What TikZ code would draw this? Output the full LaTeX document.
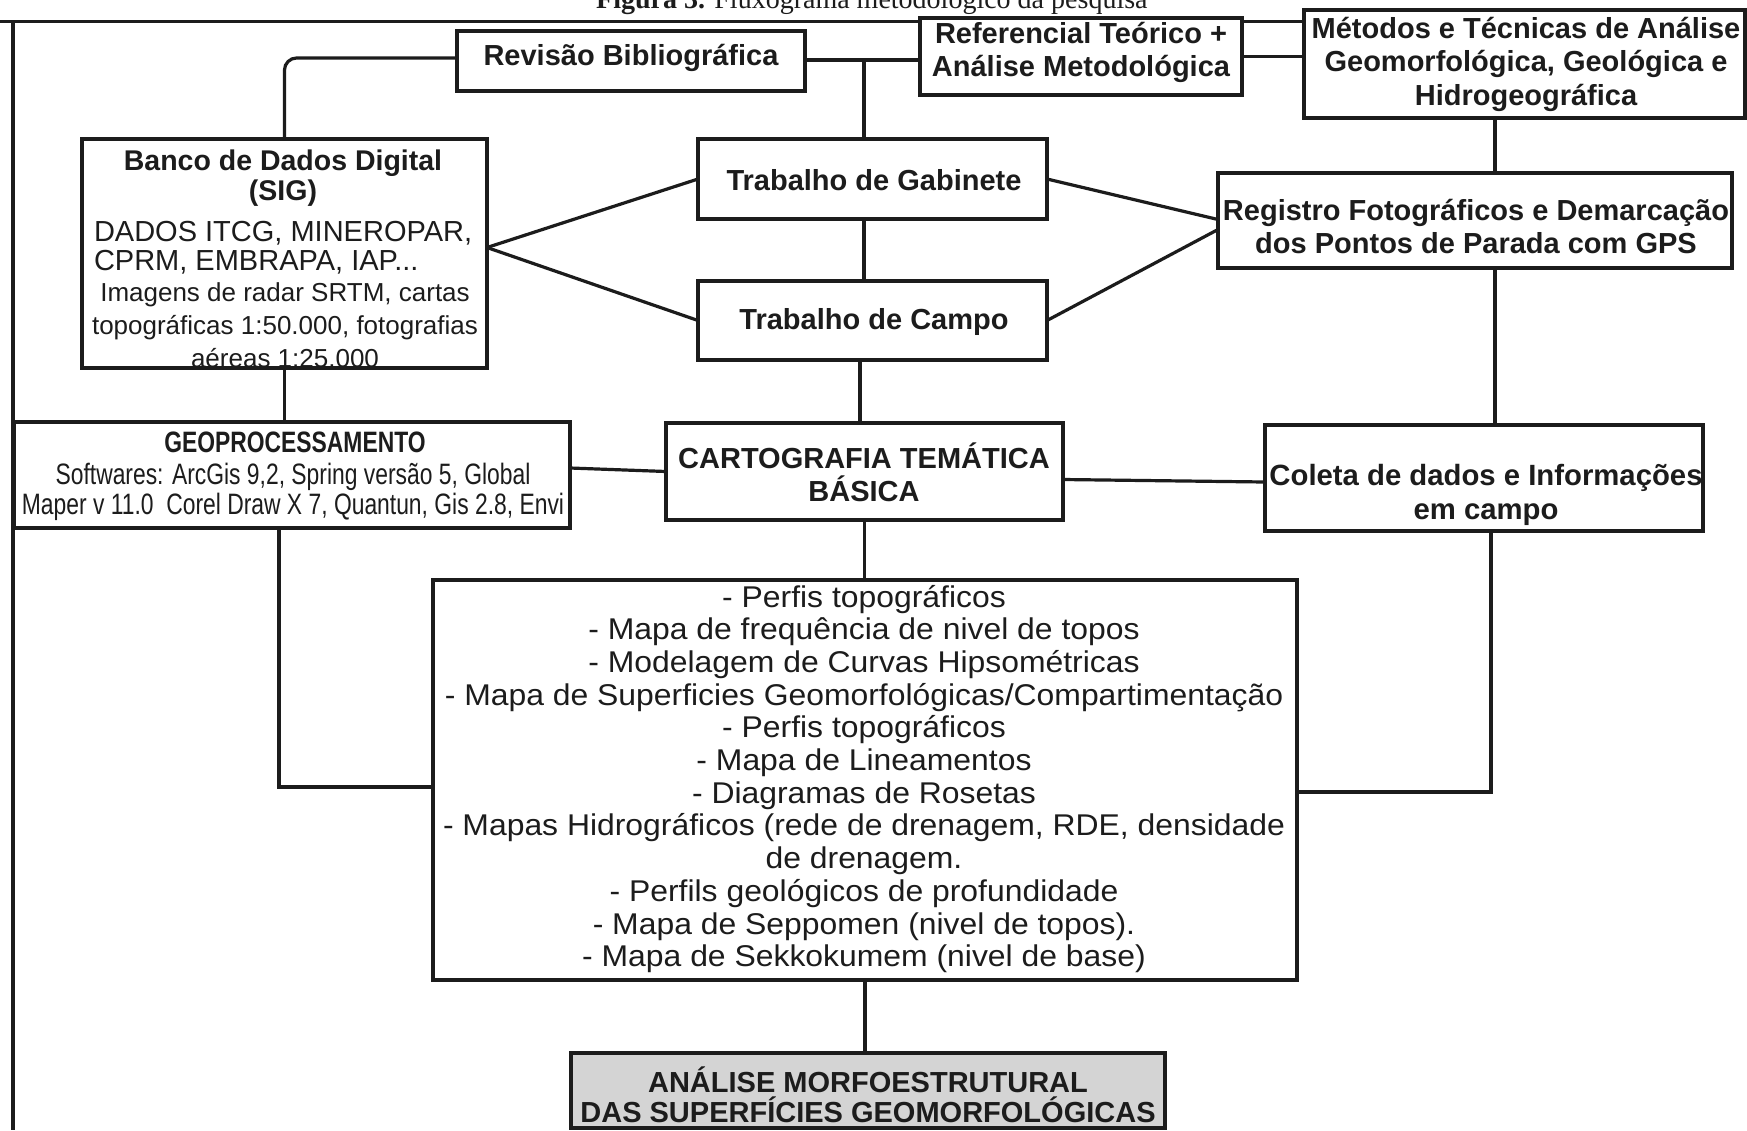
\documentclass[tikz,border=0pt]{standalone}
\usepackage{fontspec}
\setmainfont{Liberation Sans}
\newfontfamily\arwide[FakeStretch=1.063]{Liberation Sans}
\newfontfamily\arnarrow[FakeStretch=0.775]{Liberation Sans}
\newfontfamily\tnr{Liberation Serif}
\usetikzlibrary{calc}
\definecolor{ink}{HTML}{1C1C1C}
\definecolor{boxgray}{HTML}{D4D4D4}
\tikzset{
  bx/.style={draw=ink, line width=4pt, fill=white, inner sep=0pt, outer sep=0pt},
  txt/.style={inner sep=0pt, outer sep=0pt, align=center, text=ink},
  cn/.style={draw=ink, line width=3.2pt},
  hd/.style={font=\fontsize{29}{33}\selectfont\bfseries},
}
\begin{document}
\begin{tikzpicture}[x=1pt,y=-1pt]
\useasboundingbox (0,0) rectangle (1747,1130);
\fill[white] (0,0) rectangle (1747,1130);
% clipped title
\begin{scope}
\clip (0,0) rectangle (1747,20);
\node[anchor=base west, inner sep=0pt, text=ink, font=\tnr\fontsize{28}{28}\selectfont] (title) at (596,8) {\textbf{Figura 3.} Fluxograma metodológico da pesquisa};
\end{scope}
% frame
\draw[ink, line width=3pt] (0,21) -- (1747,21);
\draw[ink, line width=3.3pt] (13,21) -- (13,1130);
% boxes
\node[bx, minimum width=348pt, minimum height=60pt] (rev) at (631,61) {};
\node[bx, minimum width=322pt, minimum height=77pt] (ref) at (1081,56.5) {};
\node[bx, minimum width=441pt, minimum height=108pt] (met) at (1524.5,64) {};
\node[bx, minimum width=405pt, minimum height=229pt] (bank) at (284.5,253.5) {};
\node[bx, minimum width=349pt, minimum height=80pt] (gab) at (872.5,179) {};
\node[bx, minimum width=349pt, minimum height=79pt] (cam) at (872.5,320.5) {};
\node[bx, minimum width=514pt, minimum height=95pt] (reg) at (1475,220.5) {};
\node[bx, minimum width=556pt, minimum height=106pt] (geo) at (292,475) {};
\node[bx, minimum width=397pt, minimum height=97pt] (car) at (864.5,471.5) {};
\node[bx, minimum width=438pt, minimum height=106pt] (col) at (1484,478) {};
\node[bx, minimum width=864pt, minimum height=400pt] (lst) at (865,780) {};
\node[bx, fill=boxgray, minimum width=594pt, minimum height=75pt] (ana) at (868,1090.5) {};
% texts
\node[txt,hd] (revT) at (631,58) {Revisão Bibliográfica};
\node[txt,font=\fontsize{29}{33}\selectfont\bfseries] (refT) at (1081,52) {Referencial Teórico +\\Análise Metodológica};
\node[txt,font=\fontsize{29}{33.5}\selectfont\bfseries] (metT) at (1526,64) {Métodos e Técnicas de Análise\\Geomorfológica, Geológica e\\Hidrogeográfica};
\node[txt,font=\fontsize{28.5}{30}\selectfont\bfseries] (bankT) at (283,178) {Banco de Dados Digital\\(SIG)};
\node[txt,anchor=west,align=left,font=\fontsize{29}{29}\selectfont] (bankA) at (94,248) {DADOS ITCG, MINEROPAR,\\CPRM, EMBRAPA, IAP...};
\node[txt,font=\fontsize{26}{33}\selectfont] (bankB) at (285,325) {Imagens de radar SRTM, cartas\\topográficas 1:50.000, fotografias\\aéreas 1:25.000};
\node[txt,hd] (gabT) at (874,180) {Trabalho de Gabinete};
\node[txt,hd] (camT) at (874,322) {Trabalho de Campo};
\node[txt,hd] (regT) at (1476,227) {Registro Fotográficos e Demarcação\\dos Pontos de Parada com GPS};
\node[txt,font=\arnarrow\fontsize{29.5}{30}\selectfont\bfseries] (geoH) at (295,442) {GEOPROCESSAMENTO};
\node[txt,font=\arnarrow\fontsize{29.5}{30}\selectfont] (geoB) at (293,492) {Softwares: ArcGis 9,2, Spring versão 5, Global\\Maper v 11.0\ \ Corel Draw X 7, Quantun, Gis 2.8, Envi};
\node[txt,hd] (carT) at (864,472) {CARTOGRAFIA TEMÁTICA\\BÁSICA};
\node[txt,font=\fontsize{29.3}{34}\selectfont\bfseries] (colT) at (1486,495) {Coleta de dados e Informações\\em campo};
\node[txt,font=\arwide\fontsize{30}{32.7}\selectfont] (lstT) at (864,779) {- Perfis topográficos\\- Mapa de frequência de nivel de topos\\- Modelagem de Curvas Hipsométricas\\- Mapa de Superficies Geomorfológicas/Compartimentação\\- Perfis topográficos\\- Mapa de Lineamentos\\- Diagramas de Rosetas\\- Mapas Hidrográficos (rede de drenagem, RDE, densidade\\de drenagem.\\- Perfils geológicos de profundidade\\- Mapa de Seppomen (nivel de topos).\\- Mapa de Sekkokumem (nivel de base)};
\node[txt,font=\fontsize{29}{30}\selectfont\bfseries] (anaT) at (868,1095) {ANÁLISE MORFOESTRUTURAL\\DAS SUPERFÍCIES GEOMORFOLÓGICAS};
% connectors
\coordinate (tj) at (864,60);
\coordinate (rx) at (1495,0);
\coordinate (cx) at (860,0);
\coordinate (lj) at (279,787);
\coordinate (rj) at (1491,792);
\draw[cn, rounded corners=12pt] (bank.north) |- ($(rev.west)+(0,-3)$);
\draw[cn] ($(rev.east)+(0,-1)$) -- ($(rev.east -| ref.west)+(0,-1)$);
\draw[cn] (tj) -- (tj |- gab.north);
\draw[cn] (ref.east) -- (ref.east -| met.west);
\draw[cn] (rx |- met.south) -- (rx |- reg.north);
\draw[cn] ($(bank.east)+(0,-6)$) -- (gab.west);
\draw[cn] ($(bank.east)+(0,-6)$) -- (cam.west);
\draw[cn] (gab.east) -- ($(reg.west)+(0,-1)$);
\draw[cn] (cam.east) -- ($(reg.west)+(0,9)$);
\draw[cn] (tj |- gab.south) -- (tj |- cam.north);
\draw[cn] (cx |- cam.south) -- (cx |- car.north);
\draw[cn] (bank.south) -- (bank.south |- geo.north);
\draw[cn] ($(geo.east)+(0,-7)$) -- (car.west);
\draw[cn] ($(car.east)+(0,8)$) -- ($(col.west)+(0,4)$);
\draw[cn] (rx |- reg.south) -- (rx |- col.north);
\draw[cn] (car.south) -- (car.south |- lst.north);
\draw[cn] (lj |- geo.south) -- (lj) -- (lj -| lst.west);
\draw[cn] (rj |- col.south) -- (rj) -- (rj -| lst.east);
\draw[cn] (lst.south) -- (lst.south |- ana.north);
\end{tikzpicture}
\end{document}
